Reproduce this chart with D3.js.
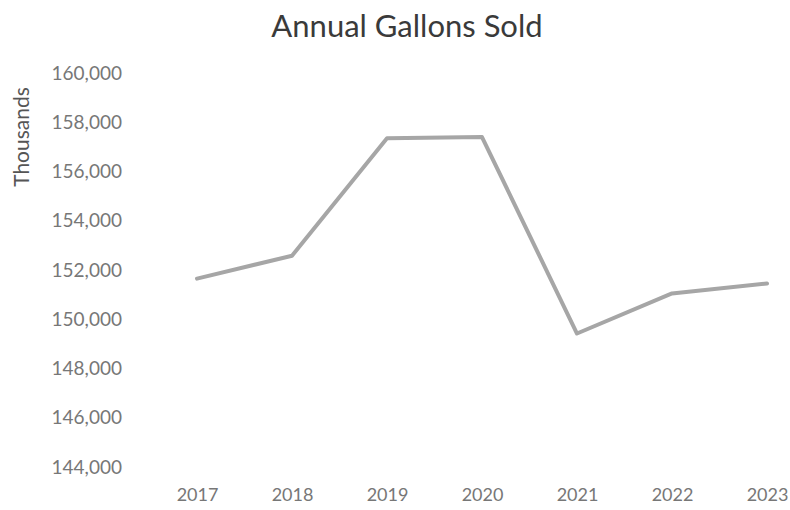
<!DOCTYPE html>
<html>
<head>
<meta charset="utf-8">
<script src="https://cdn.jsdelivr.net/npm/d3@7"></script>
<style>
  html, body { margin: 0; padding: 0; background: #fff; }
  svg { display: block; }
  text { font-family: Lato, "Open Sans", sans-serif; }
</style>
</head>
<body>
<svg id="chart" width="790" height="510"></svg>
<script>
const years = ["2017", "2018", "2019", "2020", "2021", "2022", "2023"];
const gallons = [151650, 152580, 157350, 157400, 149420, 151050, 151450];
const yTicks = [144000, 146000, 148000, 150000, 152000, 154000, 156000, 158000, 160000];
const title = "Annual Gallons Sold";
const yLabel = "Thousands";

const svg = d3.select("#chart");

const x = d3.scalePoint().domain(years).range([197, 767]);
const y = d3.scaleLinear().domain([144000, 160000]).range([467, 73]);

// Title
svg.append("text")
  .attr("x", 407).attr("y", 37)
  .attr("text-anchor", "middle")
  .attr("font-size", 31)
  .attr("fill", "#3a3a3a")
  .text(title);

// Y axis label
svg.append("text")
  .attr("transform", "translate(29,137) rotate(-90)")
  .attr("text-anchor", "middle")
  .attr("font-size", 21)
  .attr("fill", "#555")
  .text(yLabel);

// Y axis
const yAxis = svg.append("g")
  .attr("transform", "translate(122,0)")
  .call(d3.axisLeft(y).tickValues(yTicks).tickFormat(d3.format(",")).tickSize(0).tickPadding(0));
yAxis.select(".domain").remove();
yAxis.selectAll("text")
  .attr("font-family", "Lato, 'Open Sans', sans-serif")
  .attr("font-size", 19)
  .attr("fill", "#777");

// X axis
const xAxis = svg.append("g")
  .attr("transform", "translate(0,488)")
  .call(d3.axisBottom(x).tickSize(0).tickPadding(0));
xAxis.select(".domain").remove();
xAxis.selectAll("text")
  .attr("font-family", "Lato, 'Open Sans', sans-serif")
  .attr("font-size", 18)
  .attr("fill", "#777");

// Line
const line = d3.line()
  .x((d, i) => x(years[i]))
  .y(d => y(d));

svg.append("path")
  .datum(gallons)
  .attr("fill", "none")
  .attr("stroke", "#a6a6a6")
  .attr("stroke-width", 4)
  .attr("stroke-linejoin", "round")
  .attr("stroke-linecap", "round")
  .attr("d", line);
</script>
</body>
</html>
